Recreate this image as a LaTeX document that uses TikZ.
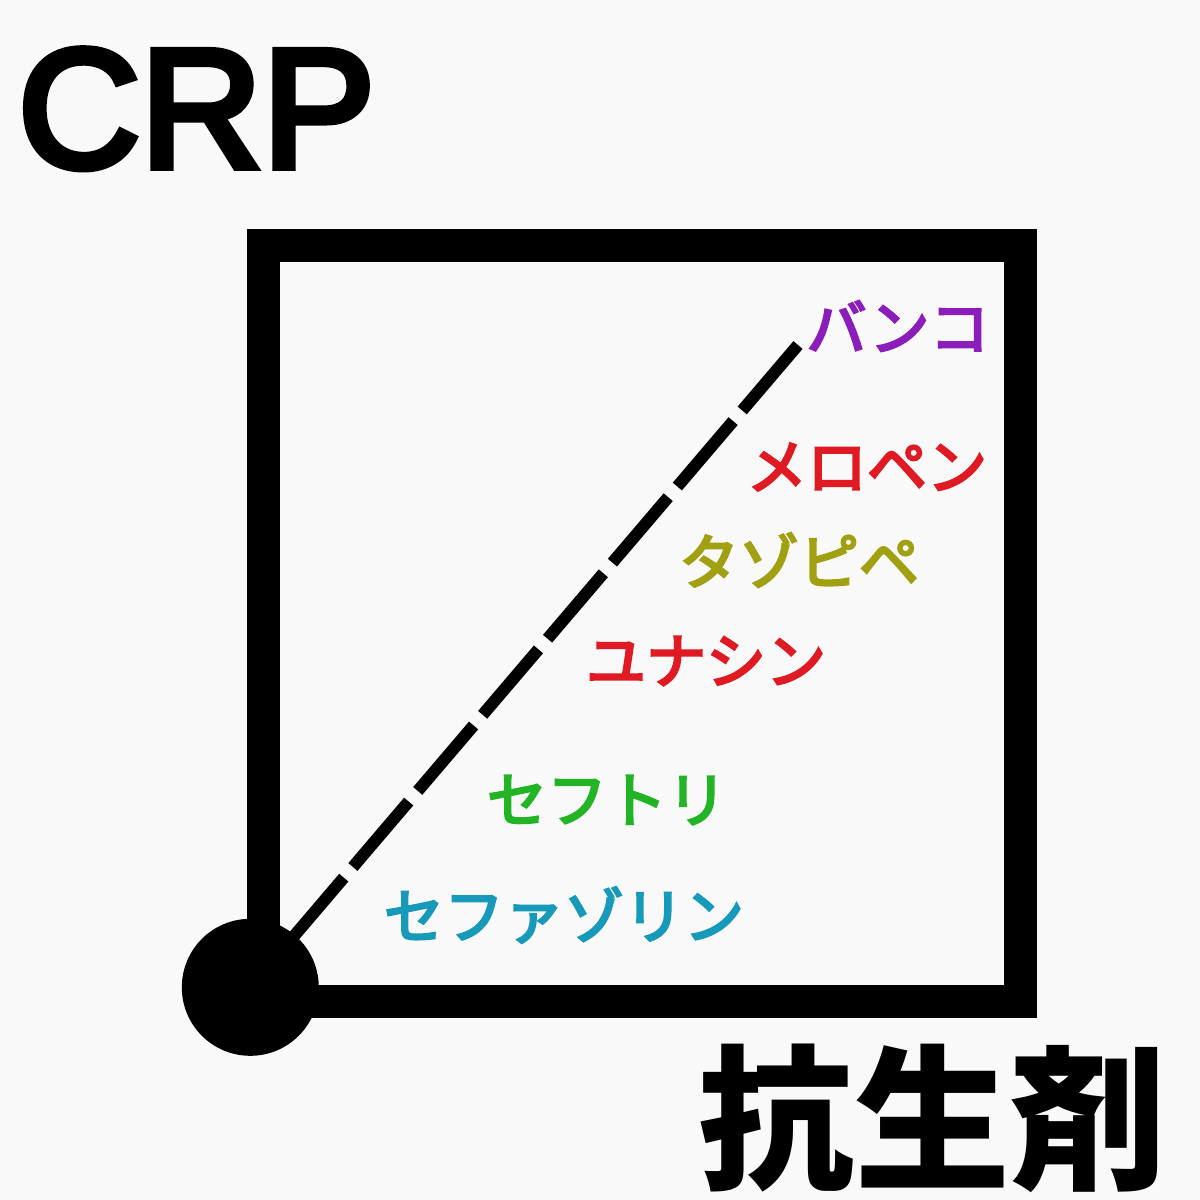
\documentclass[tikz,border=0pt]{standalone}
\usepackage{fontspec}
\setmainfont{Liberation Sans}
\newfontfamily\jp{Noto Sans CJK JP}
\newfontfamily\jpm{Noto Sans CJK JP}[FakeBold=4]
\newfontfamily\crpfont{Liberation Sans}[FakeBold=4.5]
\definecolor{bgc}{HTML}{F9F9F9}
\definecolor{cpurple}{HTML}{8B1DBB}
\definecolor{cred}{HTML}{E01A22}
\definecolor{colive}{HTML}{A0A012}
\definecolor{cgreen}{HTML}{22B424}
\definecolor{cteal}{HTML}{1799BA}
\tikzset{
  drug/.style={inner sep=0pt, anchor=center, font=\jpm\fontsize{60}{60}\selectfont},
  frame/.style={line width=33pt, draw=black},
  dashline/.style={line width=12pt, dash pattern=on 86pt off 14pt, line cap=butt}
}
\begin{document}
\begin{tikzpicture}[x=1pt,y=-1pt]
\useasboundingbox[fill=bgc] (0,0) rectangle (1200,1200);
% axes frame
\draw[frame] (263.3,245.5) rectangle (1020,1001.7);
% dashed line
\coordinate (vtop) at (798,345);
\coordinate (orig) at (250.3,987.3);
\draw[dashline] (vtop) -- (orig);
\node[circle, fill=black, minimum size=137pt, inner sep=0pt] (origin) at (orig) {};
% titles
\node[anchor=base west, inner sep=0pt, font=\crpfont\fontsize{169}{169}\selectfont] (crp) at (18,167) {CRP};
\node[inner sep=0pt, font=\jp\bfseries\fontsize{156}{156}\selectfont] (abx) at (932,1118) {抗生剤};
% drug labels
\node[drug, text=cpurple] (vanco) at (898,326) {バンコ};
\node[drug, text=cred] (mero) at (867,467) {メロペン};
\node[drug, text=colive] (tazo) at (799,560) {タゾピペ};
\node[drug, text=cred] (una) at (706,661) {ユナシン};
\node[drug, text=cgreen] (ceftri) at (607,800) {セフトリ};
\node[drug, text=cteal] (cefaz) at (564,915) {セファゾリン};
\end{tikzpicture}
\end{document}
